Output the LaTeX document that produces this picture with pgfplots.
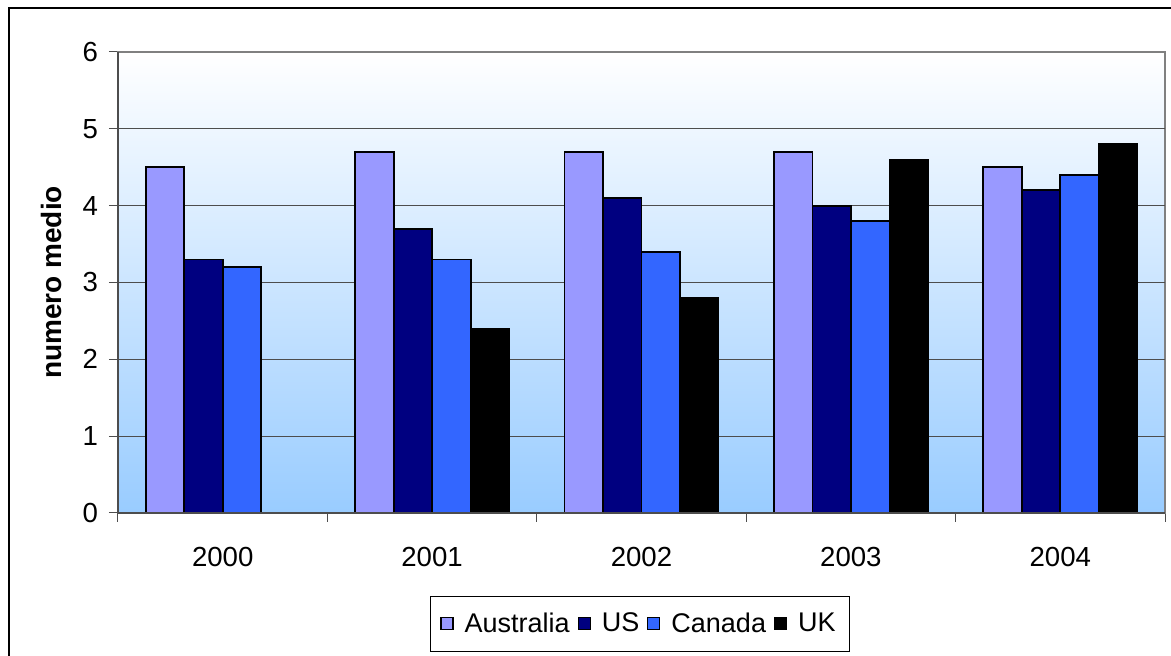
\documentclass[border=0pt]{standalone}
\usepackage{pgfplots}
\pgfplotsset{compat=1.18}
\usepackage{fontspec}
\setmainfont{Liberation Sans}

\definecolor{ausfill}{RGB}{153,153,255}
\definecolor{usfill}{RGB}{0,0,128}
\definecolor{canfill}{RGB}{51,102,255}
\definecolor{ukfill}{RGB}{0,0,0}
\definecolor{bgbottom}{RGB}{153,204,255}
\definecolor{gridgray}{RGB}{77,77,77}
\definecolor{bordergray}{RGB}{128,128,128}

\pgfplotsset{
  boxlegend/.style={legend image code/.code={
      \draw[##1, line width=0.6pt] (0pt,-3pt) rectangle (6pt,3pt);}},
}

\begin{document}
\begin{tikzpicture}
\useasboundingbox (-59pt,-71.5pt) rectangle (526.5pt,256.5pt);
% outer chart frame
\draw[line width=1.1pt] (-54.5pt,-200pt) rectangle (700pt,252.5pt);
\begin{axis}[
  at={(0pt,0pt)}, anchor=south west,
  scale only axis,
  width=523.5pt, height=230.5pt,
  xmin=-0.5, xmax=4.5,
  ymin=0, ymax=6,
  ybar=0pt,
  bar width=19.25pt,
  xtick={0,1,2,3,4},
  xticklabels={2000,2001,2002,2003,2004},
  minor xtick={-0.5,0.5,1.5,2.5,3.5,4.5},
  ytick={0,1,2,3,4,5,6},
  extra y ticks={1,2,3,4,5},
  extra y tick labels={},
  extra y tick style={grid=major, major tick length=0pt},
  major grid style={draw=gridgray, line width=0.5pt},
  tick align=outside,
  major tick length=4.5pt,
  minor tick length=4.5pt,
  major x tick style={draw=none},
  tick style={draw=gridgray, line width=0.5pt},
  xtick pos=bottom, ytick pos=left,
  axis line style={draw=bordergray, line width=0.9pt},
  axis background/.style={top color=white, bottom color=bgbottom},
  /pgf/number format/assume math mode=true,
  ticklabel style={font=\fontsize{13.8}{16}\selectfont},
  xticklabel style={yshift=-9pt},
  yticklabel style={xshift=-2pt},
  ylabel={\textbf{numero medio}},
  ylabel style={font=\fontsize{14}{16}\selectfont, at={(axis description cs:-0.064,0.5)}, anchor=center},
  legend columns=4,
  legend style={at={(axis description cs:0.4986,-0.18)}, anchor=north,
    draw=black, line width=0.5pt, fill=white,
    font=\fontsize{13.5}{16}\selectfont,
    inner xsep=5pt, inner ysep=6pt,
    /tikz/every odd column/.append style={column sep=3.5pt},
    /tikz/every even column/.append style={column sep=2pt}},
  after end axis/.code={
    \draw[gridgray, line width=0.8pt] (rel axis cs:0,1) -- (rel axis cs:0,0) -- (rel axis cs:1,0);
  },
]
\addplot[fill=ausfill, draw=black, line width=0.9pt, boxlegend] coordinates
  {(0,4.5) (1,4.7) (2,4.7) (3,4.7) (4,4.5)};
\addplot[fill=usfill, draw=black, line width=0.9pt, boxlegend] coordinates
  {(0,3.3) (1,3.7) (2,4.1) (3,4.0) (4,4.2)};
\addplot[fill=canfill, draw=black, line width=0.9pt, boxlegend] coordinates
  {(0,3.2) (1,3.3) (2,3.4) (3,3.8) (4,4.4)};
\addplot[fill=ukfill, draw=black, line width=0.9pt, boxlegend] coordinates
  {(1,2.4) (2,2.8) (3,4.6) (4,4.8)};
\legend{Australia,US,Canada,UK}
\end{axis}
\end{tikzpicture}
\end{document}
